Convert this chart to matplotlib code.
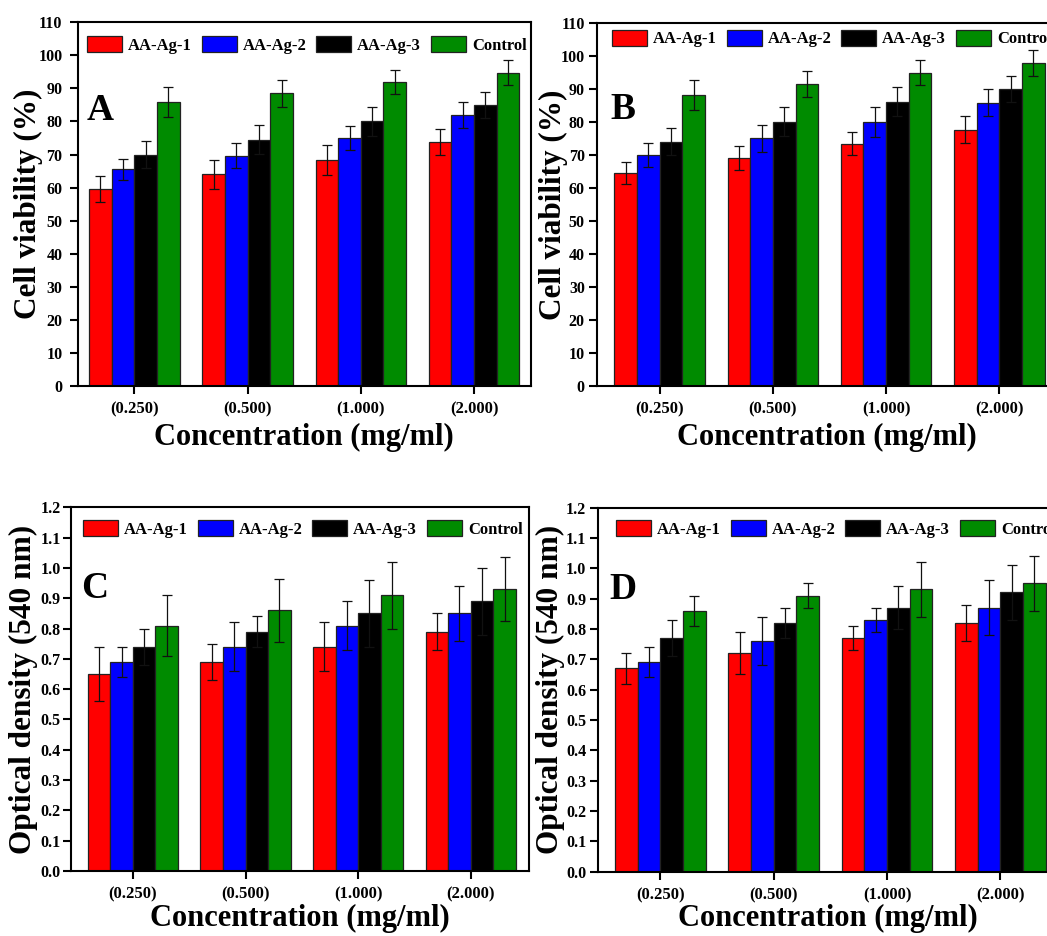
import matplotlib
matplotlib.use("Agg")
import matplotlib.pyplot as plt
import numpy as np

plt.rcParams['font.family'] = ['Liberation Serif', 'DejaVu Serif']
plt.rcParams['font.weight'] = 'bold'

categories = ["(0.250)", "(0.500)", "(1.000)", "(2.000)"]
series_names = ["AA-Ag-1", "AA-Ag-2", "AA-Ag-3", "Control"]
colors = ["#FF0000", "#0000FF", "#000000", "#008B00"]

# Panel A - cell viability (%)
A_vals = [[59.5, 64.0, 68.3, 73.7],
          [65.5, 69.7, 75.0, 82.0],
          [70.0, 74.5, 80.0, 85.0],
          [86.0, 88.5, 92.0, 94.8]]
A_errs = [[4.0, 4.4, 4.5, 3.9],
          [3.1, 3.7, 3.6, 4.0],
          [4.0, 4.3, 4.5, 4.0],
          [4.5, 4.0, 3.7, 3.9]]
# Panel B - cell viability (%)
B_vals = [[64.5, 69.0, 73.3, 77.6],
          [70.0, 75.0, 80.0, 85.8],
          [74.0, 80.0, 86.1, 90.0],
          [88.0, 91.4, 94.8, 97.8]]
B_errs = [[3.2, 3.7, 3.5, 4.0],
          [3.6, 4.0, 4.6, 4.0],
          [4.0, 4.4, 4.4, 3.9],
          [4.5, 3.9, 3.8, 3.8]]
# Panel C - optical density
C_vals = [[0.65, 0.69, 0.74, 0.79],
          [0.69, 0.74, 0.81, 0.85],
          [0.74, 0.79, 0.85, 0.89],
          [0.81, 0.86, 0.91, 0.93]]
C_errs = [[0.09, 0.06, 0.08, 0.06],
          [0.05, 0.08, 0.08, 0.09],
          [0.06, 0.05, 0.11, 0.11],
          [0.10, 0.105, 0.11, 0.105]]
# Panel D - optical density
D_vals = [[0.67, 0.72, 0.77, 0.82],
          [0.69, 0.76, 0.83, 0.87],
          [0.77, 0.82, 0.87, 0.92],
          [0.86, 0.91, 0.93, 0.95]]
D_errs = [[0.05, 0.07, 0.04, 0.06],
          [0.05, 0.08, 0.04, 0.09],
          [0.06, 0.05, 0.07, 0.09],
          [0.05, 0.04, 0.09, 0.09]]

W, H = 1047, 936
fig = plt.figure(figsize=(W / 100, H / 100), dpi=100)


def px_axes(left, top, right, bottom):
    return fig.add_axes([left / W, 1 - bottom / H, (right - left) / W, (bottom - top) / H])


panels = [
    dict(box=(77.7, 22.3, 530.7, 386), xlim=(-0.5, 3.5), vals=A_vals, errs=A_errs, letter="A",
         ylim=(0, 110), yticks=np.arange(0, 111, 10), fmt="{:.0f}", ylabel="Cell viability (%)",
         leg=(87, 36), letpos=(87, 120), ylab_x=28, xlab_y=437, ypad=5),
    dict(box=(597.3, 22.7, 1056, 386), xlim=(-0.55, 3.5), vals=B_vals, errs=B_errs, letter="B",
         ylim=(0, 110), yticks=np.arange(0, 111, 10), fmt="{:.0f}", ylabel="Cell viability (%)",
         leg=(612, 29.5), letpos=(610, 119), ylab_x=553, xlab_y=437, ypad=3),
    dict(box=(71, 507.3, 529.3, 871), xlim=(-0.55, 3.52), vals=C_vals, errs=C_errs, letter="C",
         ylim=(0, 1.2), yticks=np.round(np.arange(0, 1.21, 0.1), 1), fmt="{:.1f}",
         ylabel="Optical density (540 nm)", leg=(83, 520), letpos=(81, 598), ylab_x=23, xlab_y=918,
         ypad=1.5),
    dict(box=(598, 507.5, 1057, 871.7), xlim=(-0.55, 3.5), vals=D_vals, errs=D_errs, letter="D",
         ylim=(0, 1.2), yticks=np.round(np.arange(0, 1.21, 0.1), 1), fmt="{:.1f}",
         ylabel="Optical density (540 nm)", leg=(616, 520), letpos=(609, 599), ylab_x=550, xlab_y=918,
         ypad=2.5),
]

x = np.arange(len(categories))
bw = 0.2
for p in panels:
    l, t, r, b = p["box"]
    ax = px_axes(l, t, r, b)
    for i, name in enumerate(series_names):
        ax.bar(x + (i - 1.5) * bw, p["vals"][i], width=bw, color=colors[i],
               edgecolor="#222222", linewidth=0.9, label=name, zorder=2,
               yerr=p["errs"][i], capsize=3.6,
               error_kw=dict(ecolor="#111111", elinewidth=0.9, capthick=0.9, zorder=3))
    ax.set_xlim(*p["xlim"])
    ax.set_ylim(*p["ylim"])
    ax.set_yticks(p["yticks"])
    ax.set_yticklabels([p["fmt"].format(v) for v in p["yticks"]])
    ax.set_xticks(x)
    ax.set_xticklabels(categories)
    for s in ax.spines.values():
        s.set_linewidth(1.5)
    ax.tick_params(axis="both", direction="out", length=6, width=1.5,
                   top=False, right=False, labelsize=11.5)
    ax.tick_params(axis="x", pad=5, labelsize=12)
    ax.tick_params(axis="y", pad=p["ypad"])
    for lab in ax.get_xticklabels() + ax.get_yticklabels():
        lab.set_fontweight("bold")
    wpx = r - l
    hpx = b - t
    ax.set_ylabel(p["ylabel"], fontsize=22.5, fontweight="bold")
    ax.yaxis.set_label_coords((p["ylab_x"] + 15 - l) / wpx, 0.5)
    ax.set_xlabel("Concentration (mg/ml)", fontsize=22, fontweight="bold")
    ax.xaxis.set_label_coords(0.5, (b - p["xlab_y"] - 15) / hpx)
    ax.xaxis.label.set_va("bottom")
    ax.text((p["letpos"][0] - l) / wpx, (b - p["letpos"][1]) / hpx, p["letter"],
            transform=ax.transAxes, fontsize=27, fontweight="bold", ha="left", va="baseline")
    lx, ly = p["leg"]
    ax.legend(ncol=4, loc="upper left", bbox_to_anchor=((lx - l) / wpx, 1 - (ly - t) / hpx),
              frameon=False, borderpad=0, borderaxespad=0, handlelength=2.1, handleheight=1.1,
              handletextpad=0.35, columnspacing=0.6,
              prop=dict(family="Liberation Serif", weight="bold", size=12))

fig.savefig("out.png", dpi=100)
